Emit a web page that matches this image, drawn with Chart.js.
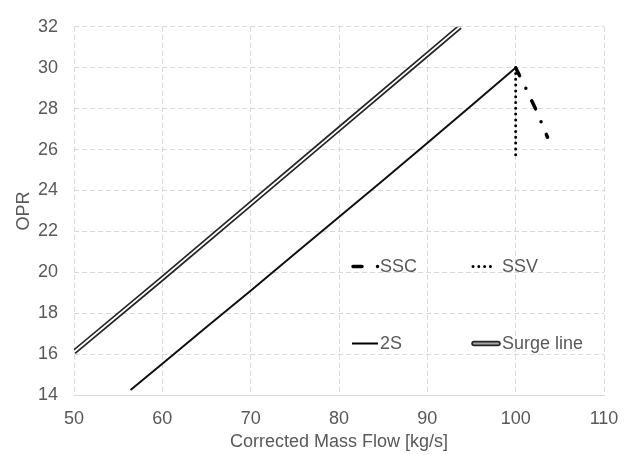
<!DOCTYPE html>
<html>
<head>
<meta charset="utf-8">
<script src="https://cdn.jsdelivr.net/npm/chart.js@4/dist/chart.umd.min.js"></script>
<style>
  html, body { margin: 0; padding: 0; background: #fff; }
  #chart { display: block; }
</style>
</head>
<body>
<canvas id="chart" width="636" height="455"></canvas>
<script>
// values
const flow2S = [56.4, 60, 65, 70, 75, 80, 85, 90, 95, 100];
const opr2S = [14.24, 15.53, 17.32, 19.1, 20.9, 22.7, 24.5, 26.32, 28.15, 30.0];

const flowSurge = [50, 60, 70, 80, 90, 93.7];
const oprSurge = [16.1, 19.7, 23.35, 27.0, 30.65, 32.0];

const flowSSC = [100, 101.2, 102.4, 103.6];
const oprSSC = [30.0, 28.95, 27.85, 26.6];

const flowSSV = [100, 100];
const oprSSV = [30.0, 25.7];

const xTicks = [50, 60, 70, 80, 90, 100, 110];
const yTicks = [14, 16, 18, 20, 22, 24, 26, 28, 30, 32];

const seriesNames = ['SSC', 'SSV', '2S', 'Surge line'];

const textColor = '#595959';
const gridColor = '#d9d9d9';
const fontFamily = '"Liberation Sans", Arial, sans-serif';

function pts(xs, ys) {
    return xs.map((x, i) => ({ x: x, y: ys[i] }));
}

const sscDash = [9, 14, 0, 13.7];
const ssvDash = [0, 5.8];

const insideLegend = {
    id: 'insideLegend',
    afterDraw(chart) {
        const ctx = chart.ctx;
        ctx.save();
        ctx.strokeStyle = '#000';

        // SSC
        ctx.lineWidth = 3.5;
        ctx.lineCap = 'round';
        ctx.setLineDash([9, 15.5, 0, 100]);
        ctx.beginPath();
        ctx.moveTo(353, 266.5);
        ctx.lineTo(378, 266.5);
        ctx.stroke();

        // SSV
        ctx.lineWidth = 3;
        ctx.setLineDash(ssvDash);
        ctx.beginPath();
        ctx.moveTo(473, 266.5);
        ctx.lineTo(491, 266.5);
        ctx.stroke();

        // 2S
        ctx.setLineDash([]);
        ctx.lineCap = 'butt';
        ctx.lineWidth = 2;
        ctx.beginPath();
        ctx.moveTo(352, 343.5);
        ctx.lineTo(378, 343.5);
        ctx.stroke();

        // Surge line
        ctx.lineCap = 'round';
        ctx.lineWidth = 5.5;
        ctx.strokeStyle = '#262626';
        ctx.beginPath();
        ctx.moveTo(474, 343.5);
        ctx.lineTo(498, 343.5);
        ctx.stroke();
        ctx.lineWidth = 2;
        ctx.strokeStyle = '#a6a6a6';
        ctx.stroke();

        ctx.fillStyle = textColor;
        ctx.font = '18px ' + fontFamily;
        ctx.textBaseline = 'middle';
        ctx.textAlign = 'left';
        ctx.fillText(seriesNames[0], 380, 267);
        ctx.fillText(seriesNames[1], 502, 267);
        ctx.fillText(seriesNames[2], 380, 344);
        ctx.fillText(seriesNames[3], 502, 344);
        ctx.restore();
    }
};

const ctx = document.getElementById('chart').getContext('2d');
new Chart(ctx, {
    type: 'scatter',
    data: {
        datasets: [
            {
                label: seriesNames[0],
                data: pts(flowSSC, oprSSC),
                showLine: true,
                borderColor: '#000',
                borderWidth: 3.5,
                borderCapStyle: 'round',
                borderDash: sscDash,
                pointRadius: 0,
                order: 2
            },
            {
                label: seriesNames[1],
                data: pts(flowSSV, oprSSV),
                showLine: true,
                borderColor: '#000',
                borderWidth: 3,
                borderCapStyle: 'round',
                borderDash: ssvDash,
                pointRadius: 0,
                order: 2
            },
            {
                label: seriesNames[2],
                data: pts(flow2S, opr2S),
                showLine: true,
                borderColor: '#111',
                borderWidth: 2,
                pointRadius: 0,
                order: 1
            },
            {
                label: seriesNames[3],
                data: pts(flowSurge, oprSurge),
                showLine: true,
                borderColor: '#262626',
                borderWidth: 5.2,
                pointRadius: 0,
                order: 4
            },
            {
                label: seriesNames[3] + ' inner',
                data: pts(flowSurge, oprSurge),
                showLine: true,
                borderColor: '#ffffff',
                borderWidth: 1.8,
                pointRadius: 0,
                order: 3
            }
        ]
    },
    options: {
        responsive: false,
        animation: false,
        devicePixelRatio: 1,
        layout: { padding: { top: 16, right: 32, left: 0, bottom: 0 } },
        plugins: {
            legend: { display: false },
            tooltip: { enabled: false }
        },
        scales: {
            x: {
                type: 'linear',
                min: 50,
                max: 110,
                afterBuildTicks: s => { s.ticks = xTicks.map(v => ({ value: v })); },
                afterFit: s => { s.height = 60; },
                grid: {
                    color: gridColor,
                    lineWidth: 1,
                    drawTicks: false
                },
                border: { display: true, color: gridColor, dash: [5, 3] },
                ticks: {
                    color: textColor,
                    font: { family: fontFamily, size: 18 },
                    padding: 13,
                    maxRotation: 0
                },
                title: {
                    display: true,
                    text: 'Corrected Mass Flow [kg/s]',
                    color: textColor,
                    font: { family: fontFamily, size: 18 },
                    padding: { top: 0, bottom: 2.5 }
                }
            },
            y: {
                type: 'linear',
                min: 14,
                max: 32,
                afterBuildTicks: s => { s.ticks = yTicks.map(v => ({ value: v })); },
                afterFit: s => { s.width = 74; },
                grid: {
                    color: gridColor,
                    lineWidth: 1,
                    drawTicks: false
                },
                border: { display: false, dash: [5, 3] },
                ticks: {
                    color: textColor,
                    font: { family: fontFamily, size: 18 },
                    padding: 16
                },
                title: {
                    display: true,
                    text: 'OPR',
                    color: textColor,
                    font: { family: fontFamily, size: 18 },
                    padding: { top: 13, bottom: 0 }
                }
            }
        }
    },
    plugins: [insideLegend]
});
</script>
</body>
</html>
